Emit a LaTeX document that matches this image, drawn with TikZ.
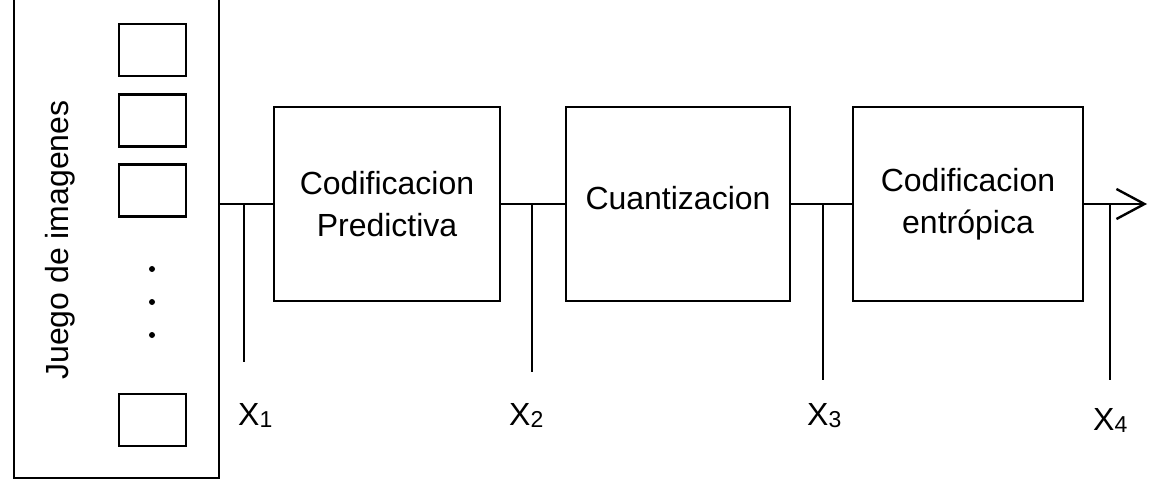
\documentclass[tikz,border=0pt]{standalone}
\usepackage{fontspec}
\setmainfont{Liberation Sans}
\usetikzlibrary{arrows.meta}
\newcommand\lsub[1]{\raisebox{-1pt}{\fontsize{11.5}{12}\selectfont #1}}
\begin{document}
\begin{tikzpicture}[x=0.5pt,y=-0.5pt, line width=1.2pt,
  blk/.style={draw, minimum width=#1, minimum height=97pt, inner sep=0pt, align=center, font=\fontsize{16}{21}\selectfont},
  img/.style={draw, minimum width=33.5pt, minimum height=26pt, inner sep=0pt},
  lbl/.style={anchor=base west, inner sep=0pt, font=\fontsize{16}{19}\selectfont},
  dotmark/.style={fill=black, circle, inner sep=0pt, minimum size=3pt}]
\useasboundingbox (0,0) rectangle (1158,481);
% source box (top edge outside the picture)
\node[draw, minimum width=102.5pt, minimum height=249pt, inner sep=0pt] (src) at (116.5,229) {};
\node[rotate=90, font=\fontsize{16}{19}\selectfont] (title) at (60,240) {Juego de imagenes};
\node[img] (i1) at (152.5,50) {};
\node[img] (i2) at (152.5,120.5) {};
\node[img] (i3) at (152.5,190.5) {};
\node[img] (i4) at (152.5,420) {};
\node[dotmark] (d1) at (152,269) {};
\node[dotmark] (d2) at (152,302) {};
\node[dotmark] (d3) at (152,335) {};
% blocks
\node[blk=113pt] (b1) at (387,204) {Codificacion\\Predictiva};
\node[blk=112pt] (b2) at (678,204) {};
\node[font=\fontsize{16}{21}\selectfont, inner sep=0pt] (b2t) at (678,198) {Cuantizacion};
\node[blk=115pt] (b3) at (968,204) {Codificacion\\entrópica};
% connectors
\coordinate (s) at (src.east |- b1.west);
\draw (s) -- (b1.west);
\draw (b1.east) -- (b2.west);
\draw (b2.east) -- (b3.west);
\coordinate (out) at (1147,204);
\draw[-{Straight Barb[length=14pt,width=15pt]}] (b3.east) -- (out);
% taps
\coordinate (t1) at (244,204); \coordinate (e1) at (244,362);
\coordinate (t2) at (532,204); \coordinate (e2) at (532,372);
\coordinate (t3) at (823,204); \coordinate (e3) at (823,380);
\coordinate (t4) at (1110,204); \coordinate (e4) at (1110,380);
\draw (t1) -- (e1);
\draw (t2) -- (e2);
\draw (t3) -- (e3);
\draw (t4) -- (e4);
% labels
\node[lbl] (x1) at (237,425) {X\lsub{1}};
\node[lbl] (x2) at (508,425) {X\lsub{2}};
\node[lbl] (x3) at (806,425) {X\lsub{3}};
\node[lbl] (x4) at (1092,430) {X\lsub{4}};
\end{tikzpicture}
\end{document}
